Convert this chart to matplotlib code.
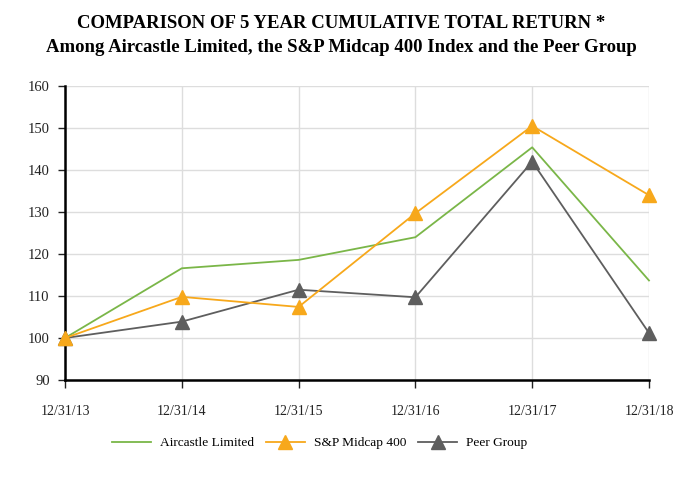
import matplotlib
matplotlib.use("Agg")
import matplotlib.pyplot as plt

dates = ["12/31/13", "12/31/14", "12/31/15", "12/31/16", "12/31/17", "12/31/18"]
aircastle = [100, 116.6, 118.6, 124.0, 145.4, 113.7]
sp_midcap = [100, 109.8, 107.4, 129.7, 150.5, 134.0]
peer_group = [100, 103.9, 111.5, 109.7, 142.0, 101.2]
yticks = [90, 100, 110, 120, 130, 140, 150, 160]

plt.rcParams['font.family'] = ['Liberation Serif', 'DejaVu Serif']

fig = plt.figure(figsize=(6.82, 4.8), dpi=100)
ax = fig.add_axes([0.0953, 0.2083, 0.8563, 0.6125])
x = list(range(len(dates)))

ax.plot(x, aircastle, color='#7AB648', lw=1.3, label='Aircastle Limited', zorder=3,
        clip_on=False)
ax.plot(x, sp_midcap, color='#F7A81B', lw=1.3, marker='^', markersize=10,
        label='S&P Midcap 400', zorder=4, clip_on=False)
ax.plot(x, peer_group, color='#5E5E5E', lw=1.3, marker='^', markersize=10,
        label='Peer Group', zorder=3, clip_on=False)

ax.set_xlim(0, len(dates) - 1)
ax.set_ylim(90, 160)
ax.set_yticks(yticks)
ax.set_xticks(x)
ax.set_xticklabels(dates)
ax.grid(True, color='#DDDDDD', lw=1)
ax.set_axisbelow(True)
for s in ['top', 'right']:
    ax.spines[s].set_visible(False)
for s in ['left', 'bottom']:
    ax.spines[s].set_linewidth(1.8)
    ax.spines[s].set_color('black')
ax.tick_params(axis='x', length=6, width=1, pad=12, labelsize=10, colors='#222222')
ax.tick_params(axis='y', length=5, width=1, pad=6, labelsize=10.5, colors='#222222')

fig.text(0.5, 0.952, 'COMPARISON OF 5 YEAR CUMULATIVE TOTAL RETURN *',
         ha='center', va='center', fontsize=13.5, fontweight='bold')
fig.text(0.5, 0.902, 'Among Aircastle Limited, the S&P Midcap 400 Index and the Peer Group',
         ha='center', va='center', fontsize=13.5, fontweight='bold')

leg = fig.legend(loc='center', bbox_to_anchor=(0.469, 0.077), ncol=3, frameon=False,
                 fontsize=9.6, handlelength=2.9, columnspacing=0.9, handletextpad=0.7)

fig.savefig('out.png', dpi=100)
